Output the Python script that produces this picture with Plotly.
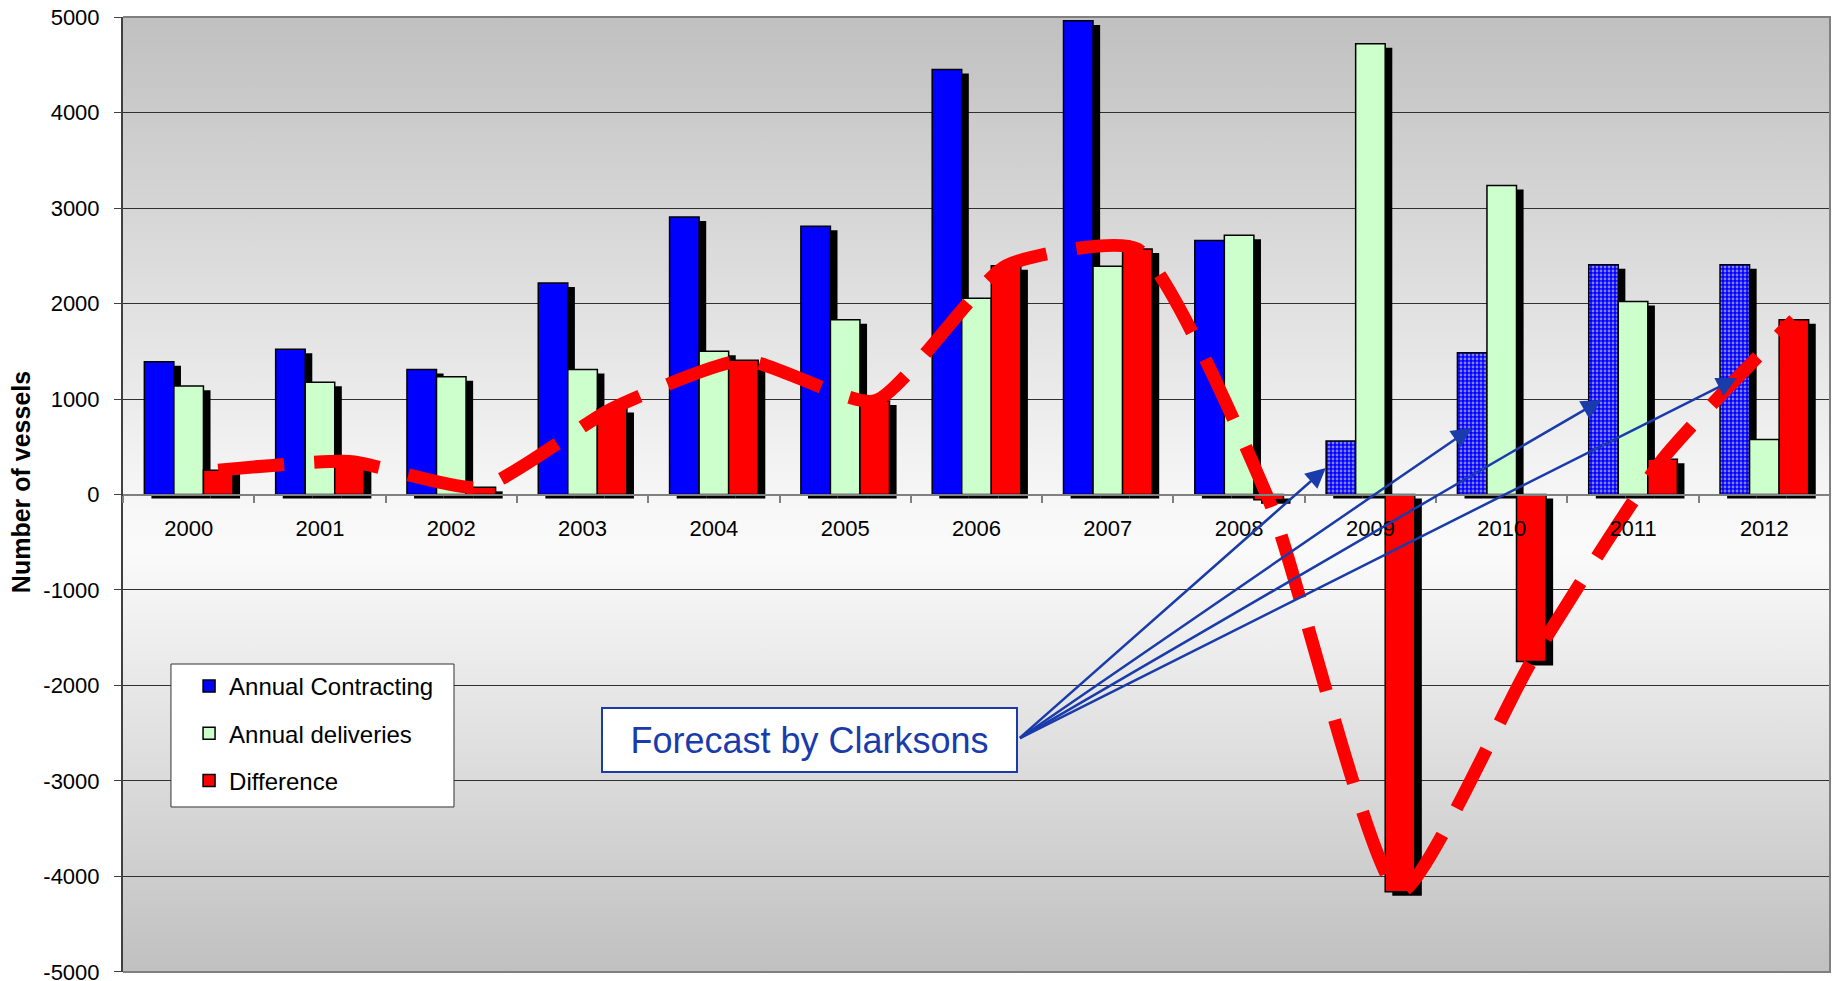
import base64
import plotly.graph_objects as go

# ---------------- data ----------------
years = ["2000", "2001", "2002", "2003", "2004", "2005", "2006",
         "2007", "2008", "2009", "2010", "2011", "2012"]
contracting = [1390, 1520, 1310, 2215, 2905, 2810, 4450, 4960, 2660, 560, 1485, 2405, 2405]
deliveries = [1135, 1175, 1233, 1310, 1500, 1830, 2055, 2390, 2715, 4720, 3235, 2020, 575]
difference = [255, 345, 75, 900, 1405, 980, 2395, 2570, -55, -4160, -1750, 370, 1830]
forecast_years = ["2009", "2010", "2011", "2012"]   # Clarksons forecast (hatched)

y_ticks = [-5000, -4000, -3000, -2000, -1000, 0, 1000, 2000, 3000, 4000, 5000]
y_tick_labels = ["-5000", "-4000", "-3000", "-2000", "-1000", "0",
                 "1000", "2000", "3000", "4000", "5000"]

# forecast callout arrows (data coordinates)
arrow_tail_x, arrow_tail_y = 6.32, -2560
arrow_head_x = [8.66, 9.77, 10.76, 11.79]
arrow_head_y = [277, 696, 990, 1220]

# ---------------- style ----------------
FONT = "Arial, 'Liberation Sans', sans-serif"
BLUE = "#0000ff"
GREEN = "#ccffcc"
RED = "#ff0000"
NAVY = "#1a3caa"

idx = list(range(len(years)))
W = 0.225
OFF_C, OFF_D, OFF_R = -1.5 * W, -0.5 * W, 0.5 * W
SHX = 0.054      # shadow shift right (~7px)
SHY = -42        # shadow shift down (~4px)

hist = [i for i, y in enumerate(years) if y not in forecast_years]
fore = [i for i, y in enumerate(years) if y in forecast_years]

fig = go.Figure()

# shadows
for vals, off in [(contracting, OFF_C), (deliveries, OFF_D), (difference, OFF_R)]:
    fig.add_trace(go.Bar(x=idx, y=vals, base=SHY, offset=off + SHX, width=W,
                         marker=dict(color="black", line=dict(width=0)),
                         showlegend=False, hoverinfo="skip"))

bar_line = dict(color="black", width=1.5)
fig.add_trace(go.Bar(x=hist, y=[contracting[i] for i in hist], offset=OFF_C, width=W,
                     name="Annual Contracting", legendgroup="a",
                     marker=dict(color=BLUE, line=bar_line)))
fig.add_trace(go.Bar(x=fore, y=[contracting[i] for i in fore], offset=OFF_C, width=W,
                     name="Annual Contracting (forecast)", showlegend=False,
                     marker=dict(color=BLUE, line=bar_line,
                                 pattern=dict(shape=".", fgcolor="white", bgcolor=BLUE,
                                              size=4, solidity=0.4))))
fig.add_trace(go.Bar(x=idx, y=deliveries, offset=OFF_D, width=W,
                     name="Annual deliveries", legendgroup="b",
                     marker=dict(color=GREEN, line=bar_line)))
fig.add_trace(go.Bar(x=idx, y=difference, offset=OFF_R, width=W,
                     name="Difference", legendgroup="c",
                     marker=dict(color=RED, line=bar_line)))

# smoothed dashed trend of the difference
fig.add_trace(go.Scatter(x=[i + OFF_R + W / 2 for i in idx], y=difference, mode="lines",
                         line=dict(color=RED, width=13, dash="66px,30px",
                                   shape="spline", smoothing=0.55),
                         showlegend=False, hoverinfo="skip"))

# gradient background
svg = ('<svg xmlns="http://www.w3.org/2000/svg" width="100" height="1000" '
       'viewBox="0 0 100 1000" preserveAspectRatio="none"><defs>'
       '<linearGradient id="g" x1="0" y1="0" x2="0" y2="1">'
       '<stop offset="0" stop-color="#c0c0c0"/>'
       '<stop offset="0.52" stop-color="#f8f8f8"/>'
       '<stop offset="0.56" stop-color="#fafafa"/>'
       '<stop offset="1" stop-color="#c0c0c0"/>'
       '</linearGradient></defs><rect x="0" y="0" width="100" height="1000" fill="url(#g)"/></svg>')
src = "data:image/svg+xml;base64," + base64.b64encode(svg.encode()).decode()

annotations = [
    dict(x=0.402, y=0.243, xref="paper", yref="paper", text="Forecast by Clarksons",
         showarrow=False, font=dict(family=FONT, size=36, color=NAVY),
         bgcolor="white", bordercolor=NAVY, borderwidth=2, borderpad=0,
         width=413, height=62, xanchor="center", yanchor="middle"),
    dict(x=-0.0597, y=0.513, xref="paper", yref="paper", text="<b>Number of vessels</b>",
         textangle=-90, showarrow=False, font=dict(family=FONT, size=25, color="black"),
         xanchor="center", yanchor="middle"),
]
for hx, hy in zip(arrow_head_x, arrow_head_y):
    annotations.append(dict(x=hx, y=hy, xref="x", yref="y", ax=arrow_tail_x, ay=arrow_tail_y,
                            axref="x", ayref="y", text="", showarrow=True, arrowhead=2,
                            arrowsize=1.6, arrowwidth=2.5, arrowcolor=NAVY, standoff=0))

fig.update_layout(
    width=1839, height=981,
    margin=dict(l=123, r=9, t=17, b=9, autoexpand=False),
    paper_bgcolor="white", plot_bgcolor="#e0e0e0",
    barmode="overlay", hovermode=False,
    font=dict(family=FONT, size=22, color="black"),
    images=[dict(source=src, xref="paper", yref="paper", x=0, y=1, sizex=1, sizey=1,
                 sizing="stretch", layer="below", xanchor="left", yanchor="top")],
    shapes=[
        dict(type="path", xref="paper", yref="paper", path="M 0,1 L 1,1 L 1,0 L 0,0",
             line=dict(color="#808080", width=2), layer="above"),
        # legend frame
        dict(type="rect", xref="paper", yref="paper", x0=0.0281, x1=0.1939, y0=0.1728, y1=0.3225,
             fillcolor="white", line=dict(color="#333333", width=1), layer="above"),
    ],
    annotations=annotations,
    legend=dict(x=0.0387, y=0.3225, xanchor="left", yanchor="top", bgcolor="rgba(0,0,0,0)",
                borderwidth=0, font=dict(family=FONT, size=24, color="black"),
                tracegroupgap=13, traceorder="grouped", itemwidth=30),
    xaxis=dict(range=[-0.5, 12.5], tickvals=idx, ticktext=years, anchor="free", position=0.5,
               showline=True, linecolor="#808080", linewidth=2, ticks="", showgrid=False,
               zeroline=False, tickfont=dict(size=22), ticklabelstandoff=14, automargin=False,
               minor=dict(tickmode="array", tickvals=[i - 0.5 for i in range(len(years) + 1)],
                          ticks="outside", ticklen=7, tickcolor="#808080", tickwidth=1.5,
                          showgrid=False)),
    yaxis=dict(range=[-5000.5, 5000.5], tickvals=y_ticks, ticktext=y_tick_labels, ticks="outside",
               ticklen=7, tickcolor="#404040", showline=True, linecolor="#404040", linewidth=2,
               showgrid=True, gridcolor="#303030", gridwidth=1, zeroline=False, automargin=False,
               tickfont=dict(size=22), ticklabelstandoff=10, ticklabeloverflow="allow"),
)

fig.write_html("out.html", config={"displayModeBar": False},
               post_script="document.body.style.margin='0';document.body.style.overflow='hidden';")
